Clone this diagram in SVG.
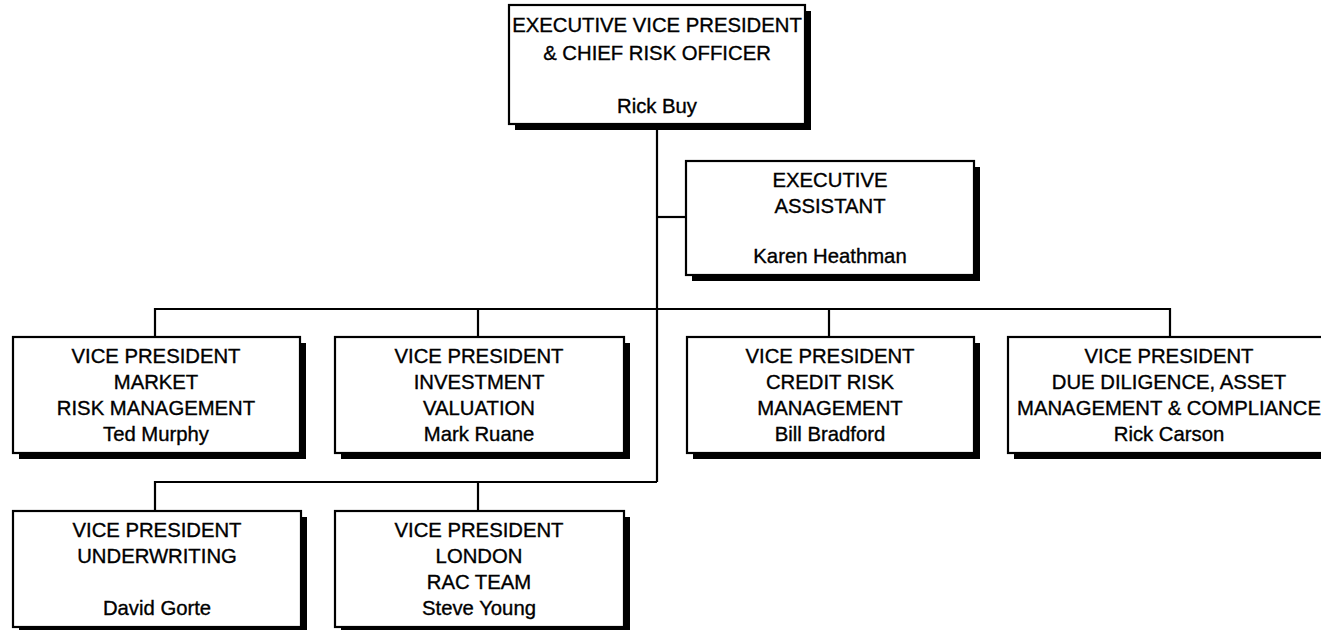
<svg xmlns="http://www.w3.org/2000/svg" width="1321" height="630" viewBox="0 0 1321 630">
<style>
.bg{fill:#fff}
.sh{fill:#000}
.box{fill:#fff;stroke:#000;stroke-width:2.2}
.ln{fill:none;stroke:#000;stroke-width:2.2}
text{font-family:"Liberation Sans",Arial,Helvetica,sans-serif;font-size:20.3px;fill:#000;stroke:#000;stroke-width:0.35;text-anchor:middle}
</style>
<rect class="bg" x="0" y="0" width="1321" height="630"/>
<g id="connectors">
<path class="ln" d="M657,124 V482"/>
<path class="ln" d="M657,217 H686"/>
<path class="ln" d="M155,337 V309 H1170 V337"/>
<path class="ln" d="M478,309 V337"/>
<path class="ln" d="M829,309 V337"/>
<path class="ln" d="M155,511 V482 H657"/>
<path class="ln" d="M478,482 V511"/>
</g>
<g id="evp">
<rect class="sh" x="515" y="11" width="296" height="119"/>
<rect class="box" x="509" y="5" width="296" height="119"/>
<text x="657" y="32">EXECUTIVE VICE PRESIDENT</text>
<text x="657" y="60">&amp; CHIEF RISK OFFICER</text>
<text x="657" y="113">Rick Buy</text>
</g>
<g id="assistant">
<rect class="sh" x="692" y="167" width="288" height="114"/>
<rect class="box" x="686" y="161" width="288" height="114"/>
<text x="830" y="187">EXECUTIVE</text>
<text x="830" y="213">ASSISTANT</text>
<text x="830" y="263">Karen Heathman</text>
</g>
<g id="vp-market">
<rect class="sh" x="19" y="343" width="287" height="116"/>
<rect class="box" x="13" y="337" width="287" height="116"/>
<text x="156" y="363">VICE PRESIDENT</text>
<text x="156" y="389">MARKET</text>
<text x="156" y="415">RISK MANAGEMENT</text>
<text x="156" y="441">Ted Murphy</text>
</g>
<g id="vp-investment">
<rect class="sh" x="341" y="343" width="289" height="116"/>
<rect class="box" x="335" y="337" width="289" height="116"/>
<text x="479" y="363">VICE PRESIDENT</text>
<text x="479" y="389">INVESTMENT</text>
<text x="479" y="415">VALUATION</text>
<text x="479" y="441">Mark Ruane</text>
</g>
<g id="vp-credit">
<rect class="sh" x="693" y="343" width="287" height="116"/>
<rect class="box" x="687" y="337" width="287" height="116"/>
<text x="830" y="363">VICE PRESIDENT</text>
<text x="830" y="389">CREDIT RISK</text>
<text x="830" y="415">MANAGEMENT</text>
<text x="830" y="441">Bill Bradford</text>
</g>
<g id="vp-due-diligence">
<rect class="sh" x="1014" y="343" width="322" height="116"/>
<rect class="box" x="1008" y="337" width="322" height="116"/>
<text x="1169" y="363">VICE PRESIDENT</text>
<text x="1169" y="389">DUE DILIGENCE, ASSET</text>
<text x="1169" y="415">MANAGEMENT &amp; COMPLIANCE</text>
<text x="1169" y="441">Rick Carson</text>
</g>
<g id="vp-underwriting">
<rect class="sh" x="19" y="517" width="288" height="116"/>
<rect class="box" x="13" y="511" width="288" height="116"/>
<text x="157" y="537">VICE PRESIDENT</text>
<text x="157" y="563">UNDERWRITING</text>
<text x="157" y="615">David Gorte</text>
</g>
<g id="vp-london">
<rect class="sh" x="341" y="517" width="289" height="116"/>
<rect class="box" x="335" y="511" width="289" height="116"/>
<text x="479" y="537">VICE PRESIDENT</text>
<text x="479" y="563">LONDON</text>
<text x="479" y="589">RAC TEAM</text>
<text x="479" y="615">Steve Young</text>
</g>
</svg>
